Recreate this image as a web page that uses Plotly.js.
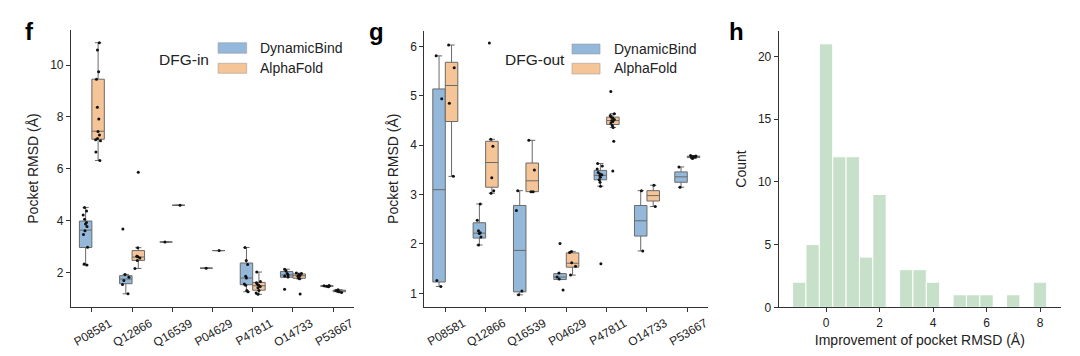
<!DOCTYPE html>
<html>
<head>
<meta charset="utf-8">
<script src="https://cdn.plot.ly/plotly-3.0.1.min.js"></script>
<style>html,body{margin:0;padding:0;background:#fff;}#chart{width:1080px;height:356px;}</style>
</head>
<body>
<div id="chart"></div>
<script>
// ---------- data ----------
const categories = ['P08581','Q12866','Q16539','P04629','P47811','O14733','P53667'];

// Panel f : DFG-in
const inDB_points = [
  [2.28, 2.32, 2.97, 3.46, 3.61, 3.77, 3.87, 3.92, 4.05, 4.21, 4.37, 4.50],
  [1.17, 1.53, 1.68, 1.81, 1.92, 3.67],
  [3.17],
  [2.16],
  [1.25, 1.30, 1.50, 1.55, 1.78, 1.85, 2.30, 2.46, 2.96],
  [1.35, 1.82, 1.86, 1.90, 1.95, 2.05, 2.12],
  [1.44, 1.46, 1.47, 1.48, 1.49]
];
const inDB_q1  = [2.96, 1.56, 3.17, 2.16, 1.52, 1.81, 1.46];
const inDB_med = [3.63, 1.74, 3.17, 2.16, 1.78, 1.90, 1.47];
const inDB_q3  = [3.98, 1.87, 3.17, 2.16, 2.36, 2.03, 1.48];
const inDB_lo  = [2.28, 1.17, 3.17, 2.16, 1.25, 1.81, 1.44];
const inDB_hi  = [4.50, 1.92, 3.17, 2.16, 2.96, 2.12, 1.49];

const inAF_points = [
  [6.32, 6.65, 7.08, 7.12, 7.17, 7.30, 7.44, 7.92, 8.38, 9.46, 9.75, 10.59, 10.87],
  [2.15, 2.46, 2.55, 2.60, 2.62, 2.95, 5.87],
  [4.59],
  [2.84],
  [1.15, 1.20, 1.30, 1.40, 1.45, 1.50, 1.55, 1.60, 1.65, 2.01],
  [1.16, 1.75, 1.78, 1.85, 1.88, 1.92, 1.95, 1.97],
  [1.22, 1.25, 1.28, 1.30, 1.33]
];
const inAF_q1  = [7.14, 2.46, 4.59, 2.84, 1.31, 1.77, 1.25];
const inAF_med = [7.45, 2.59, 4.59, 2.84, 1.48, 1.87, 1.28];
const inAF_q3  = [9.46, 2.84, 4.59, 2.84, 1.61, 1.94, 1.31];
const inAF_lo  = [6.32, 2.15, 4.59, 2.84, 1.15, 1.75, 1.22];
const inAF_hi  = [10.87, 2.95, 4.59, 2.84, 2.01, 1.97, 1.33];

// Panel g : DFG-out
const outDB_points = [
  [1.14, 1.26, 4.94, 5.81],
  [1.98, 2.14, 2.21, 2.23, 2.27, 2.48, 2.81],
  [0.97, 1.05, 2.68, 3.08],
  [1.07, 1.29, 1.33, 1.41, 2.01],
  [1.60, 3.17, 3.25, 3.30, 3.35, 3.38, 3.40, 3.42, 3.45, 3.52, 3.58, 3.63],
  [1.86, 3.08],
  [3.15, 3.56]
];
const outDB_q1  = [1.23, 2.12, 1.03, 1.28, 3.30, 2.16, 3.25];
const outDB_med = [3.10, 2.22, 1.87, 1.33, 3.39, 2.47, 3.36];
const outDB_q3  = [5.14, 2.43, 2.78, 1.40, 3.49, 2.78, 3.46];
const outDB_lo  = [1.14, 1.98, 0.97, 1.28, 3.17, 1.86, 3.15];
const outDB_hi  = [5.81, 2.81, 3.08, 1.40, 3.63, 3.08, 3.56];

const outAF_points = [
  [3.37, 4.85, 5.57, 6.03],
  [3.03, 3.08, 3.34, 3.98, 4.12, 6.07],
  [3.06, 3.06, 3.50, 4.10],
  [1.37, 1.55, 1.62, 1.83, 1.85],
  [3.48, 4.08, 4.36, 4.40, 4.45, 4.48, 4.50, 4.52, 4.55, 4.57, 4.60, 4.64, 5.09],
  [2.76, 3.19],
  [3.73, 3.75, 3.76, 3.77, 3.78, 3.79]
];
const outAF_q1  = [4.48, 3.15, 3.06, 1.53, 4.42, 2.87, 3.75];
const outAF_med = [5.21, 3.65, 3.28, 1.61, 4.50, 2.98, 3.765];
const outAF_q3  = [5.68, 4.08, 3.64, 1.82, 4.57, 3.08, 3.78];
const outAF_lo  = [3.37, 3.03, 3.06, 1.37, 4.36, 2.76, 3.73];
const outAF_hi  = [6.03, 4.12, 4.10, 1.85, 4.64, 3.19, 3.79];

// Panel h : histogram of improvement (bin centres, bin width 0.5)
const histCenters = [-1.0, -0.5, 0.0, 0.5, 1.0, 1.5, 2.0, 3.0, 3.5, 4.0, 5.0, 5.5, 6.0, 7.0, 8.0];
const histCounts  = [2, 5, 21, 12, 12, 4, 9, 3, 3, 2, 1, 1, 1, 1, 2];

const seriesNames = ['DynamicBind', 'AlphaFold'];

// ---------- styles ----------
const BLUE = '#93b8d9';
const ORANGE = '#f5c497';
const GREEN = '#c7e0ca';
const EDGE = '#6a6a6a';
const FONT = 'Liberation Sans, Arial, sans-serif';
const OFF = 0.155, BW = 0.31;

function boxTrace(name, idx, pts, q1, med, q3, lo, hi, color, xa, ya) {
  return {
    type: 'box', name: name,
    x: categories.map((c, i) => i + (idx === 0 ? -OFF : OFF)),
    y: pts, q1: q1, median: med, q3: q3, lowerfence: lo, upperfence: hi,
    boxpoints: 'all', jitter: 0.55, pointpos: 0,
    marker: {color: '#111', size: 3},
    fillcolor: color, line: {color: EDGE, width: 1},
    width: BW, whiskerwidth: 0.5,
    xaxis: xa, yaxis: ya, showlegend: false, hoverinfo: 'y'
  };
}

const data = [
  boxTrace(seriesNames[0], 0, inDB_points, inDB_q1, inDB_med, inDB_q3, inDB_lo, inDB_hi, BLUE, 'x', 'y'),
  boxTrace(seriesNames[1], 1, inAF_points, inAF_q1, inAF_med, inAF_q3, inAF_lo, inAF_hi, ORANGE, 'x', 'y'),
  boxTrace(seriesNames[0], 0, outDB_points, outDB_q1, outDB_med, outDB_q3, outDB_lo, outDB_hi, BLUE, 'x2', 'y2'),
  boxTrace(seriesNames[1], 1, outAF_points, outAF_q1, outAF_med, outAF_q3, outAF_lo, outAF_hi, ORANGE, 'x2', 'y2'),
  {
    type: 'bar', x: histCenters, y: histCounts, width: 0.5,
    marker: {color: GREEN, line: {color: '#ffffff', width: 1}},
    xaxis: 'x3', yaxis: 'y3', showlegend: false
  }
];

const axisBase = {
  showline: true, linecolor: '#333', linewidth: 1,
  ticks: 'outside', ticklen: 4, tickwidth: 1, tickcolor: '#333',
  showgrid: false, zeroline: false,
  tickfont: {family: FONT, size: 12, color: '#222'}
};
const catAxis = (dom, anchor) => Object.assign({}, axisBase, {
  domain: dom, anchor: anchor, range: [-0.52, 6.52],
  tickmode: 'array', tickvals: categories.map((c, i) => i), ticktext: categories,
  tickangle: -30, ticklabelshift: 18
});
const titleFont = {family: FONT, size: 14, color: '#222'};

const layout = {
  width: 1080, height: 356,
  margin: {l: 0, r: 0, t: 0, b: 0},
  paper_bgcolor: '#fff', plot_bgcolor: '#fff',
  font: {family: FONT, color: '#222'},
  boxmode: 'overlay',
  xaxis: catAxis([0.0657, 0.3278], 'y'),
  yaxis: Object.assign({}, axisBase, {domain: [0.1376, 0.9157], anchor: 'x', range: [0.66, 11.36],
    tickvals: [2, 4, 6, 8, 10], title: {text: 'Pocket RMSD (Å)', font: titleFont, standoff: 8}}),
  xaxis2: catAxis([0.3929, 0.6558], 'y2'),
  yaxis2: Object.assign({}, axisBase, {domain: [0.1385, 0.9138], anchor: 'x2', range: [0.73, 6.32],
    tickvals: [1, 2, 3, 4, 5, 6], title: {text: 'Pocket RMSD (Å)', font: titleFont, standoff: 8}}),
  xaxis3: Object.assign({}, axisBase, {domain: [0.7210, 0.9824], anchor: 'y3', range: [-1.77, 8.785],
    tickvals: [0, 2, 4, 6, 8], title: {text: 'Improvement of pocket RMSD (Å)', font: titleFont, standoff: 6}}),
  yaxis3: Object.assign({}, axisBase, {domain: [0.1368, 0.9138], anchor: 'x3', range: [0, 22.05],
    tickvals: [0, 5, 10, 15, 20], title: {text: 'Count', font: titleFont, standoff: 8}}),
  shapes: [
    {type: 'rect', xref: 'paper', yref: 'paper', x0: 0.2019, x1: 0.2284, y0: 0.8503, y1: 0.8801, fillcolor: BLUE, line: {color: 'rgba(150,150,150,0.5)', width: 1}},
    {type: 'rect', xref: 'paper', yref: 'paper', x0: 0.2019, x1: 0.2284, y0: 0.7941, y1: 0.8222, fillcolor: ORANGE, line: {color: 'rgba(150,150,150,0.5)', width: 1}},
    {type: 'rect', xref: 'paper', yref: 'paper', x0: 0.5296, x1: 0.5556, y0: 0.8483, y1: 0.8764, fillcolor: BLUE, line: {color: 'rgba(150,150,150,0.5)', width: 1}},
    {type: 'rect', xref: 'paper', yref: 'paper', x0: 0.5296, x1: 0.5556, y0: 0.7921, y1: 0.8222, fillcolor: ORANGE, line: {color: 'rgba(150,150,150,0.5)', width: 1}}
  ],
  annotations: [
    {text: '<b>f</b>', xref: 'paper', yref: 'paper', x: 0.0213, y: 0.9115, xanchor: 'left', yanchor: 'middle', showarrow: false, font: {family: FONT, size: 24, color: '#000'}},
    {text: '<b>g</b>', xref: 'paper', yref: 'paper', x: 0.3398, y: 0.9115, xanchor: 'left', yanchor: 'middle', showarrow: false, font: {family: FONT, size: 24, color: '#000'}},
    {text: '<b>h</b>', xref: 'paper', yref: 'paper', x: 0.6731, y: 0.9115, xanchor: 'left', yanchor: 'middle', showarrow: false, font: {family: FONT, size: 24, color: '#000'}},
    {text: 'DFG-in', xref: 'paper', yref: 'paper', x: 0.1456, y: 0.8315, xanchor: 'left', yanchor: 'middle', showarrow: false, font: {family: FONT, size: 15.5, color: '#222'}},
    {text: seriesNames[0], xref: 'paper', yref: 'paper', x: 0.2392, y: 0.8638, xanchor: 'left', yanchor: 'middle', showarrow: false, font: {family: FONT, size: 14, color: '#222'}},
    {text: seriesNames[1], xref: 'paper', yref: 'paper', x: 0.2392, y: 0.8076, xanchor: 'left', yanchor: 'middle', showarrow: false, font: {family: FONT, size: 14, color: '#222'}},
    {text: 'DFG-out', xref: 'paper', yref: 'paper', x: 0.4657, y: 0.8334, xanchor: 'left', yanchor: 'middle', showarrow: false, font: {family: FONT, size: 15.5, color: '#222'}},
    {text: seriesNames[0], xref: 'paper', yref: 'paper', x: 0.5664, y: 0.8624, xanchor: 'left', yanchor: 'middle', showarrow: false, font: {family: FONT, size: 14, color: '#222'}},
    {text: seriesNames[1], xref: 'paper', yref: 'paper', x: 0.5664, y: 0.8076, xanchor: 'left', yanchor: 'middle', showarrow: false, font: {family: FONT, size: 14, color: '#222'}}
  ]
};

Plotly.newPlot('chart', data, layout, {staticPlot: true, displayModeBar: false});
</script>
</body>
</html>
